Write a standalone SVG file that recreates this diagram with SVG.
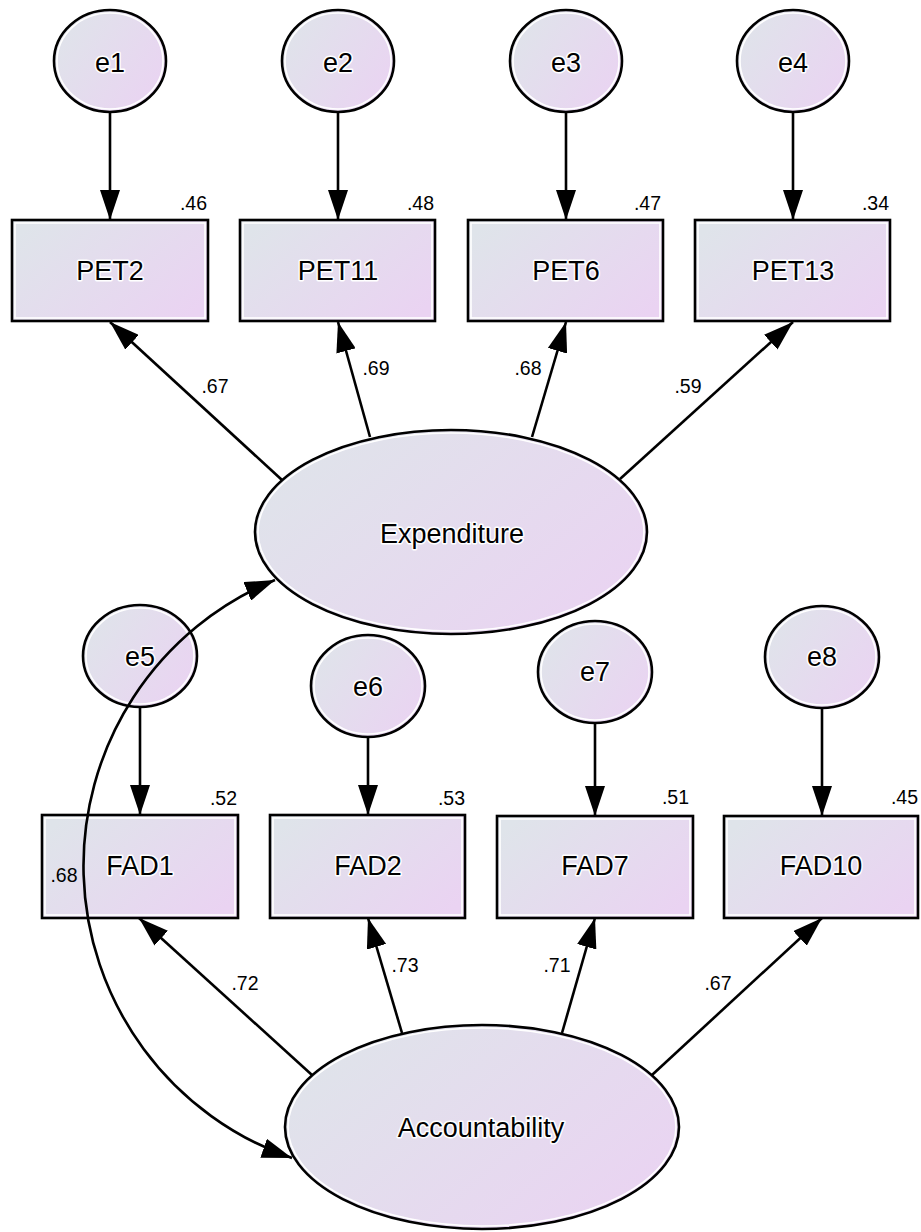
<svg xmlns="http://www.w3.org/2000/svg" width="921" height="1232" viewBox="0 0 921 1232">
<defs>
<linearGradient id="g" x1="0" y1="0.2" x2="1" y2="0.8">
<stop offset="0" stop-color="#dfe4ea"/>
<stop offset="1" stop-color="#ead3f2"/>
</linearGradient>
<marker id="ah" markerUnits="userSpaceOnUse" markerWidth="30" markerHeight="20" refX="30" refY="10" orient="auto-start-reverse" viewBox="0 0 30 20">
<path d="M0,0 L30,10 L0,20 z" fill="#000"/>
</marker>
<style>
.shape{fill:url(#g);stroke:#000;stroke-width:2.6}
.inner{fill:none;stroke:#fff;stroke-width:1.6}
.lbl{font-family:"Liberation Sans",Arial,sans-serif;font-size:27px;text-anchor:middle;fill:#000;stroke:#fff;stroke-width:3;paint-order:stroke;stroke-linejoin:round}
.coef{font-family:"Liberation Sans",Arial,sans-serif;font-size:19.5px;fill:#000}
.mid{text-anchor:middle}
.end{text-anchor:end}
.con{fill:none;stroke:#000;stroke-width:2.6}
</style>
</defs>
<rect width="921" height="1232" fill="#fff"/>

<g id="e1"><ellipse class="shape" cx="110" cy="61" rx="56" ry="51"/><ellipse class="inner" cx="110" cy="61" rx="53" ry="48"/><text class="lbl" x="110" y="72">e1</text></g>
<g id="e2"><ellipse class="shape" cx="338" cy="61" rx="56" ry="51"/><ellipse class="inner" cx="338" cy="61" rx="53" ry="48"/><text class="lbl" x="338" y="72">e2</text></g>
<g id="e3"><ellipse class="shape" cx="566" cy="61" rx="56" ry="51"/><ellipse class="inner" cx="566" cy="61" rx="53" ry="48"/><text class="lbl" x="566" y="72">e3</text></g>
<g id="e4"><ellipse class="shape" cx="793" cy="61" rx="56" ry="51"/><ellipse class="inner" cx="793" cy="61" rx="53" ry="48"/><text class="lbl" x="793" y="72">e4</text></g>

<g id="PET2"><rect class="shape" x="12" y="220" width="196" height="101"/><rect class="inner" x="15" y="223" width="190" height="95"/><text class="lbl" x="110" y="280">PET2</text><text class="coef end" x="207" y="210">.46</text></g>
<g id="PET11"><rect class="shape" x="240" y="220" width="195" height="101"/><rect class="inner" x="243" y="223" width="189" height="95"/><text class="lbl" x="338" y="280">PET11</text><text class="coef end" x="434" y="210">.48</text></g>
<g id="PET6"><rect class="shape" x="468" y="220" width="195" height="101"/><rect class="inner" x="471" y="223" width="189" height="95"/><text class="lbl" x="566" y="280">PET6</text><text class="coef end" x="661" y="210">.47</text></g>
<g id="PET13"><rect class="shape" x="695" y="220" width="195" height="101"/><rect class="inner" x="698" y="223" width="189" height="95"/><text class="lbl" x="793" y="280">PET13</text><text class="coef end" x="889" y="210">.34</text></g>

<g id="Expenditure"><ellipse class="shape" cx="451" cy="532" rx="196" ry="102"/><ellipse class="inner" cx="451" cy="532" rx="193" ry="99"/><text class="lbl" x="452" y="543">Expenditure</text></g>

<g id="e5"><ellipse class="shape" cx="140" cy="656" rx="57" ry="51"/><ellipse class="inner" cx="140" cy="656" rx="54" ry="48"/><text class="lbl" x="140" y="666">e5</text></g>
<g id="e6"><ellipse class="shape" cx="368" cy="686" rx="57" ry="51"/><ellipse class="inner" cx="368" cy="686" rx="54" ry="48"/><text class="lbl" x="368" y="696">e6</text></g>
<g id="e7"><ellipse class="shape" cx="595" cy="672" rx="57" ry="51"/><ellipse class="inner" cx="595" cy="672" rx="54" ry="48"/><text class="lbl" x="595" y="681">e7</text></g>
<g id="e8"><ellipse class="shape" cx="822" cy="657" rx="57" ry="51"/><ellipse class="inner" cx="822" cy="657" rx="54" ry="48"/><text class="lbl" x="822" y="666">e8</text></g>

<g id="FAD1"><rect class="shape" x="42" y="815" width="196" height="103"/><rect class="inner" x="45" y="818" width="190" height="97"/><text class="lbl" x="140" y="875">FAD1</text><text class="coef end" x="237" y="805">.52</text></g>
<g id="FAD2"><rect class="shape" x="270" y="815" width="195" height="103"/><rect class="inner" x="273" y="818" width="189" height="97"/><text class="lbl" x="368" y="875">FAD2</text><text class="coef end" x="465" y="805">.53</text></g>
<g id="FAD7"><rect class="shape" x="497" y="816" width="196" height="102"/><rect class="inner" x="500" y="819" width="190" height="96"/><text class="lbl" x="595" y="875">FAD7</text><text class="coef end" x="689" y="804">.51</text></g>
<g id="FAD10"><rect class="shape" x="724" y="816" width="194" height="102"/><rect class="inner" x="727" y="819" width="188" height="96"/><text class="lbl" x="821" y="875">FAD10</text><text class="coef end" x="918" y="804">.45</text></g>

<g id="Accountability"><ellipse class="shape" cx="482" cy="1127" rx="197" ry="102"/><ellipse class="inner" cx="482" cy="1127" rx="194" ry="99"/><text class="lbl" x="481" y="1137">Accountability</text></g>

<g id="connectors">
<line class="con" x1="110" y1="112" x2="110" y2="220" marker-end="url(#ah)"/>
<line class="con" x1="338" y1="112" x2="338" y2="220" marker-end="url(#ah)"/>
<line class="con" x1="566" y1="112" x2="566" y2="220" marker-end="url(#ah)"/>
<line class="con" x1="793" y1="112" x2="793" y2="220" marker-end="url(#ah)"/>
<line class="con" x1="282" y1="480" x2="110" y2="322" marker-end="url(#ah)"/>
<line class="con" x1="370" y1="437" x2="338" y2="322" marker-end="url(#ah)"/>
<line class="con" x1="532" y1="437" x2="566" y2="322" marker-end="url(#ah)"/>
<line class="con" x1="620" y1="479" x2="793" y2="322" marker-end="url(#ah)"/>
<line class="con" x1="140" y1="707" x2="140" y2="815" marker-end="url(#ah)"/>
<line class="con" x1="368" y1="737" x2="368" y2="815" marker-end="url(#ah)"/>
<line class="con" x1="595" y1="723" x2="595" y2="816" marker-end="url(#ah)"/>
<line class="con" x1="822" y1="708" x2="822" y2="816" marker-end="url(#ah)"/>
<line class="con" x1="312" y1="1075" x2="139" y2="918" marker-end="url(#ah)"/>
<line class="con" x1="402" y1="1033" x2="368" y2="918" marker-end="url(#ah)"/>
<line class="con" x1="562" y1="1033" x2="595" y2="918" marker-end="url(#ah)"/>
<line class="con" x1="652" y1="1075" x2="822" y2="918" marker-end="url(#ah)"/>
<path class="con" d="M275,580 A309,309 0 0 0 292,1158" marker-start="url(#ah)" marker-end="url(#ah)"/>
</g>

<g id="coefficients">
<text class="coef mid" x="215" y="393">.67</text>
<text class="coef mid" x="376" y="375">.69</text>
<text class="coef mid" x="528" y="375">.68</text>
<text class="coef mid" x="688" y="393">.59</text>
<text class="coef mid" x="245" y="990">.72</text>
<text class="coef mid" x="405" y="972">.73</text>
<text class="coef mid" x="557" y="972">.71</text>
<text class="coef mid" x="718" y="990">.67</text>
<text class="coef mid" x="64" y="882">.68</text>
</g>
</svg>
